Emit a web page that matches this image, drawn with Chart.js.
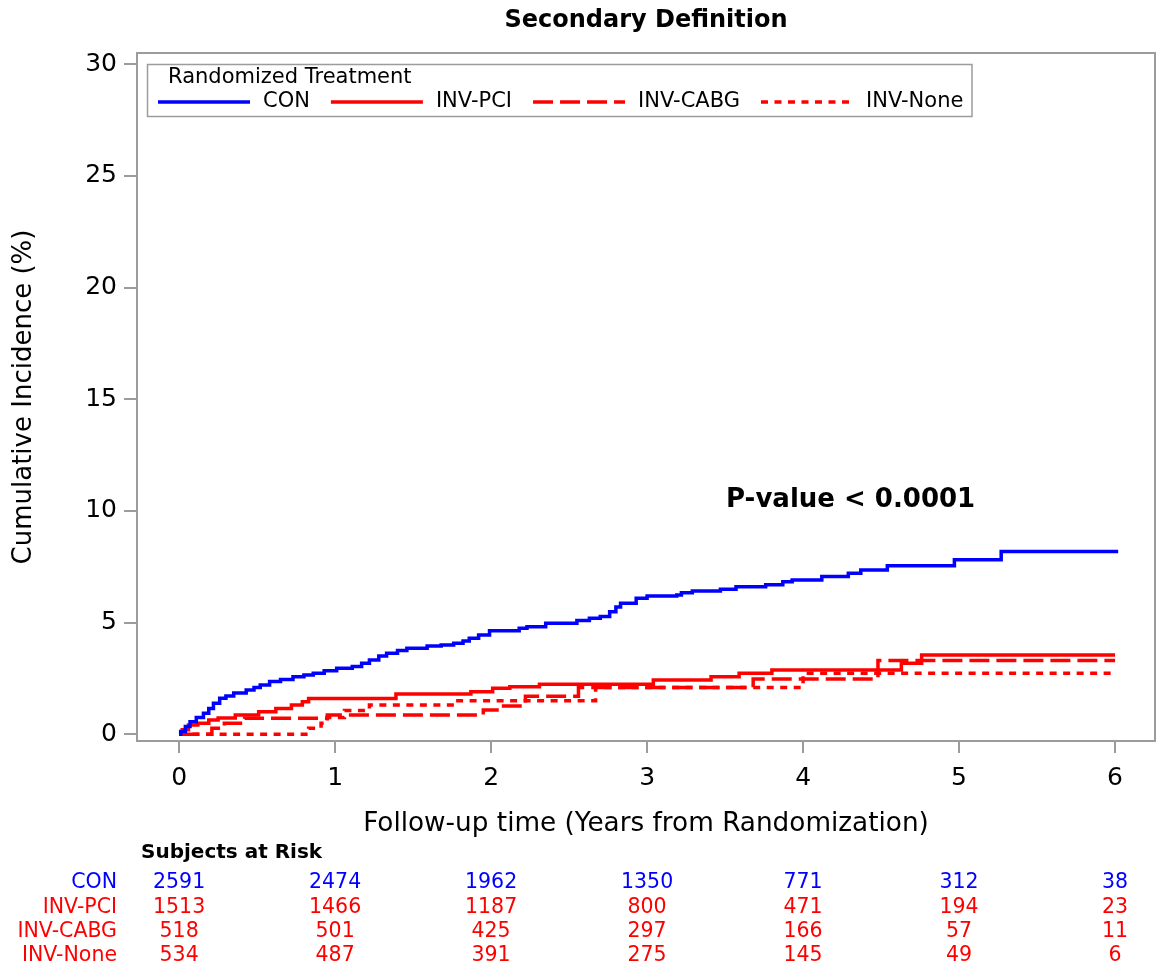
<!DOCTYPE html>
<html><head><meta charset="utf-8">
<script src="https://cdn.jsdelivr.net/npm/chart.js@4.4.0/dist/chart.umd.min.js"></script>
<style>html,body{margin:0;padding:0;background:#fff;}canvas{display:block;}</style>
</head><body>
<canvas id="c" width="1156" height="969"></canvas>
<script>
// ---- data ----
const xTicks = [0, 1, 2, 3, 4, 5, 6];
const yTicks = [0, 5, 10, 15, 20, 25, 30];

const seriesNames = ['CON', 'INV-PCI', 'INV-CABG', 'INV-None'];

const conTime = [0, 0.01, 0.04, 0.07, 0.11, 0.156, 0.19, 0.22, 0.26, 0.30, 0.35, 0.43, 0.48, 0.52, 0.58, 0.65, 0.73, 0.80, 0.86, 0.93, 1.01, 1.11, 1.17, 1.22, 1.28, 1.33, 1.40, 1.46, 1.59, 1.68, 1.76, 1.82, 1.86, 1.92, 1.99, 2.18, 2.23, 2.35, 2.55, 2.63, 2.70, 2.76, 2.80, 2.83, 2.93, 3.0, 3.19, 3.22, 3.29, 3.47, 3.57, 3.76, 3.87, 3.93, 4.12, 4.29, 4.37, 4.54, 4.97, 5.27, 6.02];
const conPct  = [0, 0.12, 0.35, 0.56, 0.75, 0.94, 1.15, 1.39, 1.61, 1.72, 1.85, 1.98, 2.10, 2.21, 2.36, 2.45, 2.58, 2.66, 2.73, 2.84, 2.96, 3.03, 3.18, 3.33, 3.50, 3.63, 3.75, 3.85, 3.95, 4.00, 4.08, 4.18, 4.30, 4.45, 4.64, 4.75, 4.82, 4.97, 5.09, 5.19, 5.27, 5.49, 5.70, 5.87, 6.09, 6.19, 6.24, 6.34, 6.42, 6.49, 6.61, 6.69, 6.83, 6.91, 7.06, 7.21, 7.36, 7.54, 7.81, 8.18, 8.18];

const pciTime = [0, 0.02, 0.06, 0.12, 0.19, 0.25, 0.36, 0.51, 0.62, 0.72, 0.79, 0.83, 1.39, 1.87, 2.01, 2.12, 2.31, 3.04, 3.41, 3.59, 3.80, 4.63, 4.76, 6.0];
const pciPct  = [0, 0.20, 0.42, 0.50, 0.64, 0.73, 0.86, 1.01, 1.16, 1.31, 1.46, 1.60, 1.80, 1.91, 2.06, 2.13, 2.24, 2.43, 2.58, 2.73, 2.88, 3.18, 3.55, 3.55];

const cabgTime = [0, 0.21, 0.29, 0.42, 0.95, 1.95, 2.08, 2.22, 2.56, 3.68, 4.48, 6.0];
const cabgPct  = [0, 0.27, 0.49, 0.72, 0.86, 1.09, 1.27, 1.70, 2.10, 2.48, 3.30, 3.30];

const noneTime = [0, 0.83, 0.91, 0.95, 1.06, 1.22, 1.75, 2.67, 4.0, 6.0];
const nonePct  = [0, 0.27, 0.49, 0.75, 1.06, 1.31, 1.50, 2.10, 2.73, 2.73];

const riskTimes = [0, 1, 2, 3, 4, 5, 6];
const conRisk  = [2591, 2474, 1962, 1350, 771, 312, 38];
const pciRisk  = [1513, 1466, 1187, 800, 471, 194, 23];
const cabgRisk = [518, 501, 425, 297, 166, 57, 11];
const noneRisk = [534, 487, 391, 275, 145, 49, 6];

// ---- styles ----
const FONT = '"DejaVu Sans", Verdana, sans-serif';
const GRAY = '#9c9c9c';
const BLUE = '#0000ff';
const RED = '#ff0000';
const styles = [
  {color: BLUE, dash: []},
  {color: RED, dash: []},
  {color: RED, dash: [20, 7]},
  {color: RED, dash: [7, 6.5]}
];
const timesAll = [conTime, pciTime, cabgTime, noneTime];
const pctAll = [conPct, pciPct, cabgPct, nonePct];
const riskAll = [conRisk, pciRisk, cabgRisk, noneRisk];

const datasets = seriesNames.map((name, i) => ({
  label: name,
  data: timesAll[i].map((t, k) => ({x: t, y: pctAll[i][k]})),
  borderColor: styles[i].color,
  backgroundColor: styles[i].color,
  borderDash: styles[i].dash,
  borderWidth: 3.5,
  borderCapStyle: 'butt',
  stepped: 'before',
  pointRadius: 0,
  fill: false
}));

const decorPlugin = {
  id: 'decor',
  beforeDatasetsDraw(chart) {
    const a = chart.chartArea, ctx = chart.ctx;
    ctx.save();
    ctx.strokeStyle = GRAY; ctx.lineWidth = 2;
    ctx.strokeRect(a.left, a.top, a.right - a.left, a.bottom - a.top);
    ctx.restore();
  },
  afterDraw(chart) {
    const ctx = chart.ctx, xs = chart.scales.x;
    ctx.save();
    // title
    ctx.fillStyle = '#000';
    ctx.textBaseline = 'middle';
    ctx.textAlign = 'center';
    ctx.font = 'bold 24px ' + FONT;
    ctx.fillText('Secondary Definition', (chart.chartArea.left + chart.chartArea.right) / 2, 21);

    // legend
    ctx.strokeStyle = GRAY; ctx.lineWidth = 1.5;
    ctx.strokeRect(147.5, 64.5, 824.5, 52);
    ctx.textAlign = 'left';
    ctx.font = '21px ' + FONT;
    ctx.fillStyle = '#000';
    ctx.fillText('Randomized Treatment', 168, 78);
    let x = 158;
    const ly = 102;
    seriesNames.forEach((name, i) => {
      ctx.save();
      ctx.strokeStyle = styles[i].color;
      ctx.lineWidth = 3.5;
      ctx.lineCap = 'butt';
      ctx.setLineDash(styles[i].dash);
      ctx.beginPath(); ctx.moveTo(x, ly); ctx.lineTo(x + 92, ly); ctx.stroke();
      ctx.restore();
      ctx.fillStyle = '#000';
      ctx.fillText(name, x + 105, ly);
      x = x + 105 + ctx.measureText(name).width + 21;
    });

    // p-value
    ctx.font = 'bold 26px ' + FONT;
    ctx.fillText('P-value < 0.0001', 726, 500);

    // at-risk table
    ctx.font = 'bold 20px ' + FONT;
    ctx.fillText('Subjects at Risk', 141, 853);
    ctx.font = '20.5px ' + FONT;
    riskAll.forEach((row, i) => {
      const y = 883 + i * 24.2;
      ctx.fillStyle = styles[i].color;
      ctx.textAlign = 'right';
      ctx.fillText(seriesNames[i], 117, y);
      ctx.textAlign = 'center';
      row.forEach((v, k) => ctx.fillText(String(v), xs.getPixelForValue(riskTimes[k]), y));
    });
    ctx.restore();
  }
};

new Chart(document.getElementById('c'), {
  type: 'line',
  data: {datasets},
  plugins: [decorPlugin],
  options: {
    responsive: false,
    animation: false,
    devicePixelRatio: 1,
    layout: {padding: {left: 0, right: 1, top: 53, bottom: 0}},
    plugins: {legend: {display: false}, title: {display: false}, tooltip: {enabled: false}},
    scales: {
      x: {
        type: 'linear', min: -0.27, max: 6.256,
        afterBuildTicks: s => { s.ticks = xTicks.map(v => ({value: v})); },
        afterFit: s => { s.height = 228; },
        grid: {drawOnChartArea: false, drawTicks: true, tickLength: 12, color: GRAY, lineWidth: 2},
        border: {display: false},
        ticks: {font: {family: FONT, size: 25}, color: '#000', padding: 10, maxRotation: 0, autoSkip: false},
        title: {display: true, text: 'Follow-up time (Years from Randomization)', color: '#000',
                font: {family: FONT, size: 26.3}, padding: {top: 0, bottom: 129}}
      },
      y: {
        type: 'linear', min: -0.3, max: 30.5,
        afterBuildTicks: s => { s.ticks = yTicks.map(v => ({value: v})); },
        afterFit: s => { s.width = 137; },
        grid: {drawOnChartArea: false, drawTicks: true, tickLength: 13, color: GRAY, lineWidth: 2},
        border: {display: false},
        ticks: {font: {family: FONT, size: 25}, color: '#000', padding: 7, autoSkip: false},
        title: {display: true, text: 'Cumulative Incidence (%)', color: '#000',
                font: {family: FONT, size: 26}, padding: {top: 9, bottom: 0}}
      }
    }
  }
});
</script>
</body></html>
